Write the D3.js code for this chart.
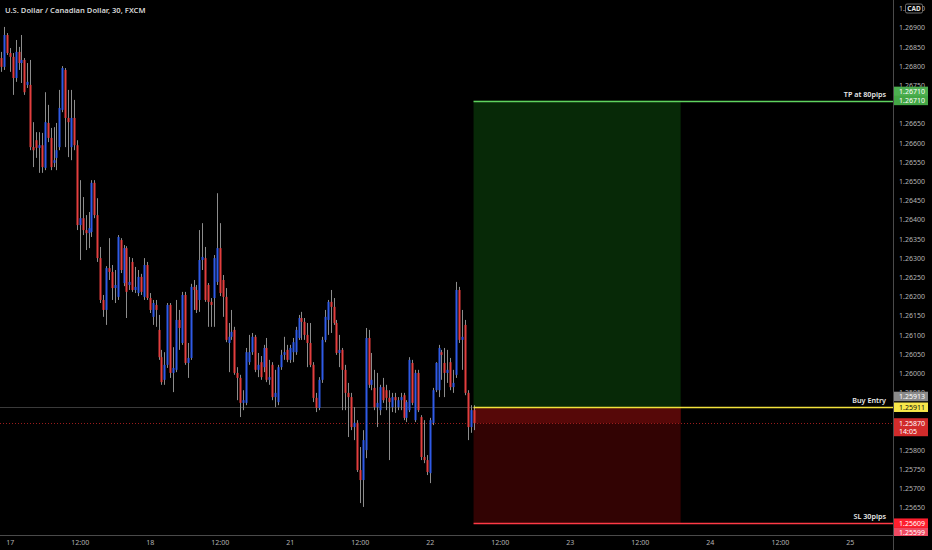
<!DOCTYPE html>
<html><head><meta charset="utf-8">
<script src="https://cdn.jsdelivr.net/npm/d3@7"></script>
<style>html,body{margin:0;padding:0;background:#000;overflow:hidden}svg{display:block}</style>
</head><body>
<svg id="c" width="932" height="550"></svg>
<script>
// ---- DATA (USDCAD, 30 min, FXCM) ----
const opens = [
1.26821,1.26798,1.26881,1.26834,1.26824,1.26769,1.26837,1.26808,1.26816,1.26751,
1.26751,1.26589,1.26607,1.26587,1.26594,1.26535,1.26652,1.26613,1.26548,1.26561,
1.26589,1.26686,1.26790,1.26665,1.26589,1.26665,1.26594,1.26386,1.26404,1.26373,
1.26365,1.26368,1.26496,1.26412,1.26300,1.26191,1.26165,1.26274,1.26264,1.26222,
1.26199,1.26347,1.26235,1.26326,1.26230,1.26290,1.26217,1.26209,1.26251,1.26199,
1.26282,1.26196,1.26147,1.26178,1.26113,1.26042,1.25983,1.26022,1.26178,1.26001,
1.26009,1.26139,1.26079,1.26204,1.26027,1.26040,1.26225,1.26217,1.26191,1.26295,
1.26300,1.26230,1.26186,1.26196,1.26238,1.26326,1.26243,1.26199,1.26079,1.26095,
1.26113,1.26001,1.25988,1.25923,1.25923,1.26029,1.26055,1.26095,1.26009,1.26029,
1.26016,1.26066,1.25983,1.26022,1.25938,1.25925,1.26016,1.26048,1.26061,1.26035,
1.26055,1.26055,1.26092,1.26144,1.26134,1.26100,1.26079,1.26022,1.25936,1.25910,
1.25983,1.26087,1.26139,1.26186,1.26173,1.26131,1.26053,1.26061,1.26009,1.25949,
1.25938,1.25860,1.25871,1.25748,1.25722,1.25800,1.26092,1.25970,1.25962,1.25912,
1.25904,1.25964,1.25956,1.25936,1.25912,1.25938,1.25912,1.25930,1.25943,1.25884,
1.25904,1.26027,1.25878,1.26001,1.25886,1.25782,1.25774,1.25740,1.25871,1.25956,
1.25956,1.26055,1.26027,1.26001,1.26029,1.25964,1.25996,1.26217,1.26087,1.26126,
1.25949,1.25860,1.25904];
const highs = [
1.26837,1.26902,1.26886,1.26847,1.26834,1.26868,1.26850,1.26881,1.26821,1.26808,
1.26816,1.26654,1.26628,1.26628,1.26626,1.26732,1.26699,1.26639,1.26641,1.26652,
1.26738,1.26800,1.26795,1.26738,1.26738,1.26712,1.26607,1.26503,1.26459,1.26412,
1.26420,1.26503,1.26503,1.26456,1.26329,1.26204,1.26279,1.26352,1.26282,1.26269,
1.26360,1.26352,1.26334,1.26331,1.26303,1.26300,1.26277,1.26269,1.26259,1.26300,
1.26290,1.26209,1.26191,1.26191,1.26152,1.26061,1.26055,1.26183,1.26183,1.26068,
1.26191,1.26165,1.26212,1.26212,1.26079,1.26233,1.26243,1.26230,1.26373,1.26391,
1.26329,1.26235,1.26196,1.26308,1.26469,1.26391,1.26256,1.26222,1.26131,1.26165,
1.26121,1.26016,1.25996,1.25956,1.26066,1.26100,1.26105,1.26100,1.26053,1.26045,
1.26074,1.26092,1.26035,1.26029,1.26009,1.26022,1.26061,1.26095,1.26074,1.26074,
1.26092,1.26121,1.26152,1.26160,1.26144,1.26131,1.26131,1.26029,1.25949,1.25990,
1.26095,1.26165,1.26191,1.26217,1.26196,1.26139,1.26100,1.26066,1.26022,1.25975,
1.25949,1.25912,1.25878,1.25808,1.25852,1.26118,1.26113,1.26053,1.26009,1.26001,
1.25970,1.25988,1.25970,1.25956,1.25949,1.25949,1.25938,1.25949,1.25949,1.25930,
1.26042,1.26035,1.26009,1.26009,1.25891,1.25878,1.25787,1.25884,1.25962,1.26029,
1.26074,1.26061,1.26066,1.26061,1.26040,1.26009,1.26238,1.26225,1.26165,1.26139,
1.25956,1.25917,1.25917];
const lows = [
1.26785,1.26790,1.26829,1.26785,1.26725,1.26759,1.26790,1.26756,1.26725,1.26743,
1.26581,1.26537,1.26561,1.26522,1.26522,1.26529,1.26602,1.26529,1.26537,1.26529,
1.26581,1.26680,1.26589,1.26563,1.26555,1.26581,1.26373,1.26295,1.26360,1.26321,
1.26326,1.26355,1.26404,1.26290,1.26183,1.26147,1.26126,1.26243,1.26191,1.26183,
1.26191,1.26261,1.26227,1.26144,1.26217,1.26212,1.26209,1.26201,1.26204,1.26191,
1.26191,1.26157,1.26126,1.26121,1.26035,1.25970,1.25970,1.26014,1.25988,1.25951,
1.26003,1.26061,1.26074,1.26022,1.25988,1.26035,1.26165,1.26157,1.26160,1.26269,
1.26186,1.26121,1.26121,1.26121,1.26230,1.26201,1.26147,1.26081,1.26003,1.26087,
1.25996,1.25930,1.25886,1.25904,1.25917,1.26022,1.26048,1.26003,1.25990,1.25983,
1.26003,1.25977,1.25970,1.25930,1.25912,1.25917,1.26009,1.26035,1.26029,1.26027,
1.26029,1.26048,1.26087,1.26087,1.26087,1.26016,1.26016,1.25925,1.25899,1.25904,
1.25975,1.26081,1.26100,1.26105,1.26126,1.26048,1.26016,1.25904,1.25904,1.25834,
1.25852,1.25826,1.25743,1.25662,1.25652,1.25779,1.25962,1.25956,1.25904,1.25860,
1.25891,1.25923,1.25904,1.25774,1.25899,1.25897,1.25904,1.25904,1.25878,1.25873,
1.25899,1.25917,1.25873,1.25899,1.25774,1.25766,1.25735,1.25714,1.25865,1.25951,
1.25938,1.25983,1.25938,1.25975,1.25956,1.25949,1.25988,1.26079,1.26009,1.25943,
1.25826,1.25845,1.25852];
const closes = [
1.26798,1.26881,1.26834,1.26824,1.26769,1.26837,1.26808,1.26816,1.26732,1.26759,
1.26589,1.26581,1.26587,1.26594,1.26537,1.26654,1.26613,1.26537,1.26555,1.26581,
1.26691,1.26795,1.26665,1.26654,1.26665,1.26594,1.26386,1.26404,1.26373,1.26365,
1.26378,1.26496,1.26412,1.26300,1.26191,1.26165,1.26274,1.26264,1.26222,1.26230,
1.26355,1.26269,1.26326,1.26212,1.26238,1.26217,1.26225,1.26251,1.26212,1.26282,
1.26196,1.26165,1.26183,1.26165,1.26042,1.25977,1.26022,1.26178,1.26001,1.26014,
1.26139,1.26118,1.26204,1.26027,1.26040,1.26225,1.26217,1.26165,1.26295,1.26303,
1.26191,1.26186,1.26178,1.26300,1.26326,1.26209,1.26199,1.26087,1.26095,1.26108,
1.26001,1.25988,1.25923,1.25930,1.26055,1.26055,1.26095,1.26009,1.26022,1.25990,
1.26066,1.25983,1.25990,1.25938,1.25949,1.26016,1.26048,1.26055,1.26035,1.26066,
1.26081,1.26113,1.26144,1.26134,1.26100,1.26079,1.26022,1.25936,1.25910,1.25983,
1.26087,1.26147,1.26186,1.26173,1.26131,1.26053,1.26061,1.26009,1.25949,1.25938,
1.25860,1.25871,1.25748,1.25722,1.25826,1.26092,1.25970,1.25983,1.25912,1.25923,
1.25964,1.25930,1.25936,1.25925,1.25938,1.25930,1.25930,1.25938,1.25884,1.25925,
1.26035,1.25923,1.26001,1.25904,1.25782,1.25774,1.25743,1.25878,1.25956,1.26027,
1.26066,1.26048,1.26001,1.26009,1.25964,1.25975,1.26217,1.26087,1.26095,1.25949,
1.25860,1.25904,1.25870];

const timeTickLabels = ["17","12:00","18","12:00","21","12:00","22","12:00","23","12:00","24","12:00","25"];
const timeTickBars   = [3,27,51,75,99,123,147,171,195,219,243,267,291];
// price scale labels that are visible (the others are hidden behind price badges)
const priceTicks = [1.25650,1.25700,1.25750,1.25800,1.25950,1.26000,1.26050,1.26100,
  1.26150,1.26200,1.26250,1.26300,1.26350,1.26400,1.26450,1.26500,1.26550,1.26600,1.26650,
  1.26750,1.26800,1.26850,1.26900,1.26950];
const titleText = "U.S. Dollar / Canadian Dollar, 30, FXCM";
const tpPrice = 1.26710, entryPrice = 1.25911, slPrice = 1.25609;
const lastPrice = 1.25870, refPrice = 1.25913, slBelowPrice = 1.25599;
const countdown = "14:05";
const toolStartBar = 162, toolEndBar = 233;
const tpLabel = "TP at 80pips", entryLabel = "Buy Entry", slLabel = "SL 30pips";

// ---- CHART ----
const W = 932, H = 550, axisX = 893, axisY = 535;
const FONT = "'Noto Sans', 'Open Sans', sans-serif";
const svg = d3.select("#c").style("font-family", FONT);
svg.append("rect").attr("width", W).attr("height", H).attr("fill", "#000");

const x = d3.scaleLinear().domain([0, 300]).range([1, 876.1]);
const y = d3.scaleLinear().domain([1.25650, 1.26900]).range([507.7, 27.7]);

svg.append("defs").append("clipPath").attr("id", "plot")
  .append("rect").attr("x", 0).attr("y", 0).attr("width", axisX).attr("height", axisY);
const plot = svg.append("g").attr("clip-path", "url(#plot)");

// position tool zones
const tx0 = x(toolStartBar), tx1 = x(toolEndBar);
plot.append("rect").attr("x", tx0).attr("width", tx1 - tx0)
  .attr("y", y(tpPrice)).attr("height", y(entryPrice) - y(tpPrice)).attr("fill", "#072907");
plot.append("rect").attr("x", tx0).attr("width", tx1 - tx0)
  .attr("y", y(entryPrice)).attr("height", y(slPrice) - y(entryPrice)).attr("fill", "#320303");
plot.append("rect").attr("x", tx0).attr("width", tx1 - tx0)
  .attr("y", y(entryPrice)).attr("height", y(lastPrice) - y(entryPrice)).attr("fill", "#560808");

// reference lines
plot.append("line").attr("x1", 0).attr("x2", axisX).attr("y1", Math.round(y(refPrice)) + 0.5).attr("y2", Math.round(y(refPrice)) + 0.5)
  .attr("stroke", "#3a3a3a").attr("stroke-width", 1);
plot.append("line").attr("x1", 0).attr("x2", axisX).attr("y1", Math.round(y(lastPrice)) + 0.5).attr("y2", Math.round(y(lastPrice)) + 0.5)
  .attr("stroke", "#9a1c1c").attr("stroke-width", 1).attr("stroke-dasharray", "1,2");

// candles
const idx = d3.range(opens.length);
const cg = plot.append("g");
cg.selectAll("line.w").data(idx).join("line").attr("class", "w")
  .attr("x1", i => Math.round(x(i)) + 0.5).attr("x2", i => Math.round(x(i)) + 0.5)
  .attr("y1", i => y(highs[i])).attr("y2", i => y(lows[i]))
  .attr("stroke", "#8c8c8c").attr("stroke-width", 1);
cg.selectAll("rect.b").data(idx).join("rect").attr("class", "b")
  .attr("x", i => Math.round(x(i)) - 0.5).attr("width", 2)
  .attr("y", i => y(Math.max(opens[i], closes[i])))
  .attr("height", i => Math.max(1, Math.abs(y(opens[i]) - y(closes[i]))))
  .attr("fill", i => closes[i] >= opens[i] ? "#2f5ae6" : "#e33e3e");

// tool lines
const hline = (p, col) => plot.append("line").attr("x1", tx0).attr("x2", axisX)
  .attr("y1", Math.round(y(p)) + 0.5).attr("y2", Math.round(y(p)) + 0.5).attr("stroke", col).attr("stroke-width", 1.3);
hline(tpPrice, "#5fd35f");
hline(entryPrice, "#f2e23c");
hline(slPrice, "#ff3a46");
const lab = (p, t) => plot.append("text").attr("x", 886).attr("y", y(p) - 4).attr("text-anchor", "end")
  .attr("fill", "#e8e8e8").attr("font-size", 7.2).attr("font-weight", 600).text(t);
lab(tpPrice, tpLabel); lab(entryPrice, entryLabel); lab(slPrice, slLabel);

// title
svg.append("text").attr("x", 5).attr("y", 12.5).attr("fill", "#d6d6d6")
  .attr("font-size", 7.6).attr("font-weight", 600).text(titleText);

// axes
svg.append("line").attr("x1", axisX + 0.5).attr("x2", axisX + 0.5).attr("y1", 0).attr("y2", H)
  .attr("stroke", "#4a4a4a");
svg.append("line").attr("x1", 0).attr("x2", axisX).attr("y1", axisY + 0.5).attr("y2", axisY + 0.5)
  .attr("stroke", "#4a4a4a");

const ya = svg.append("g").attr("transform", `translate(${axisX},0)`)
  .call(d3.axisRight(y).tickValues(priceTicks).tickFormat(d3.format(".5f")).tickSize(0).tickPadding(6));
ya.select(".domain").remove();
ya.selectAll("text").attr("fill", "#b4b4b4").attr("font-size", 7).attr("font-family", FONT);

const xa = svg.append("g").attr("transform", `translate(0,${axisY})`)
  .call(d3.axisBottom(x).tickValues(timeTickBars).tickFormat((d, i) => timeTickLabels[i]).tickSize(0).tickPadding(5));
xa.select(".domain").remove();
xa.selectAll("text").attr("fill", "#b4b4b4").attr("font-size", 7).attr("font-family", FONT);

// price badges
const bg = svg.append("g");
function badge(yc, h, bgc, fg, lines) {
  bg.append("rect").attr("x", 894).attr("y", yc - 5).attr("width", 34).attr("height", h).attr("fill", bgc);
  lines.forEach((t, k) => bg.append("text").attr("x", 899).attr("y", yc + k * 8.5)
    .attr("dy", "0.35em").attr("fill", fg).attr("font-size", 7).text(t));
}
const f5 = d3.format(".5f");
badge(y(tpPrice) - 9, 9.5, "#4caf50", "#ffffff", [f5(tpPrice)]);
badge(y(tpPrice), 9.5, "#43a645", "#ffffff", [f5(tpPrice)]);
badge(y(refPrice) - 10, 9.5, "#8a8a8a", "#ffffff", [f5(refPrice)]);
badge(y(entryPrice), 9.5, "#f7e74a", "#111111", [f5(entryPrice)]);
badge(y(lastPrice), 18, "#d12b2b", "#ffffff", [f5(lastPrice), countdown]);
badge(y(slPrice), 9.5, "#ff1f2e", "#ffffff", [f5(slPrice)]);
// partially hidden badge below
svg.select("defs").append("clipPath").attr("id", "rc")
  .append("rect").attr("x", 894).attr("y", 0).attr("width", 40).attr("height", axisY + 1);
const g2 = svg.append("g").attr("clip-path", "url(#rc)");
g2.append("rect").attr("x", 894).attr("y", y(slPrice) + 4.5).attr("width", 34).attr("height", 9.5).attr("fill", "#ee4a62");
g2.append("text").attr("x", 899).attr("y", y(slPrice) + 9.5).attr("dy", "0.35em").attr("fill", "#fff").attr("font-size", 7).text(f5(slBelowPrice));

// currency box
svg.append("rect").attr("x", 905.5).attr("y", 4).attr("width", 17).attr("height", 9).attr("rx", 1.5)
  .attr("fill", "#000").attr("stroke", "#8a8a8a").attr("stroke-width", 0.8);
svg.append("text").attr("x", 914).attr("y", 8.7).attr("dy", "0.35em").attr("text-anchor", "middle")
  .attr("fill", "#e0e0e0").attr("font-size", 6.5).attr("font-weight", 700).text("CAD");
</script>
</body></html>
